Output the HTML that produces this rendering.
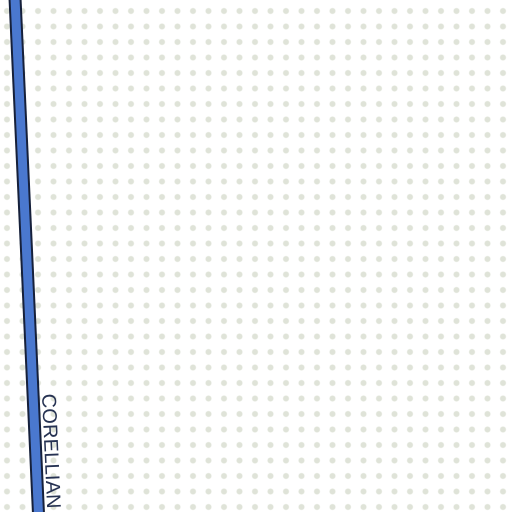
<!DOCTYPE html>
<html><head><meta charset="utf-8"><style>
html,body{margin:0;padding:0;width:512px;height:512px;overflow:hidden;background:#fff}
svg{display:block}
</style></head><body>
<svg width="512" height="512" viewBox="0 0 512 512">
<defs>
<pattern id="dots" x="-0.75" y="3.25" width="15.5" height="15.5" patternUnits="userSpaceOnUse">
<circle cx="7.75" cy="7.75" r="3" fill="#dfe3d8"/>
</pattern>
</defs>
<rect width="512" height="512" fill="url(#dots)"/>
<g>
<line x1="15" y1="-2" x2="38.5" y2="514" stroke="#16203a" stroke-width="13"/>
<line x1="15" y1="-2" x2="38.5" y2="514" stroke="#4a78cf" stroke-width="9"/>
</g>
<text transform="translate(42,394) rotate(87.4)" font-family="Liberation Sans, sans-serif" font-size="20" fill="#263252" letter-spacing="0.2">CORELLIAN</text>
</svg>
</body></html>
